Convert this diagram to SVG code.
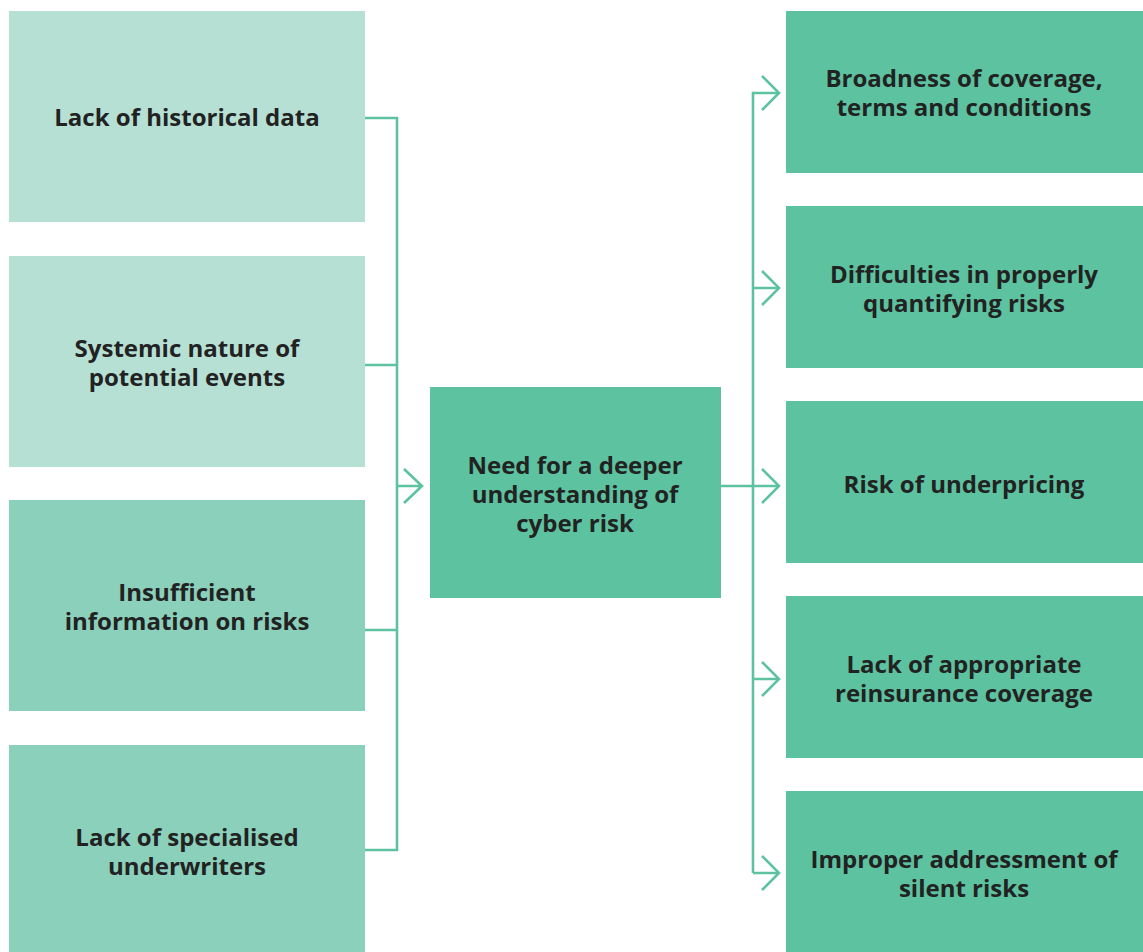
<svg xmlns="http://www.w3.org/2000/svg" width="1143" height="952" viewBox="0 0 1143 952">
<style>
.l1{fill:#b6e0d4}
.l2{fill:#8bd0bb}
.m{fill:#5cc2a0}
.t{font-family:"Open Sans","Noto Sans","Liberation Sans",sans-serif;font-weight:bold;font-size:24px;fill:#222;text-anchor:middle}
.c{fill:none;stroke:#5cc2a0;stroke-width:2.6}
</style>
<rect width="1143" height="952" fill="#fff"/>
<g id="n1"><rect class="l1" x="9" y="11" width="356" height="211"/><text class="t" x="187" y="126">Lack of historical data</text></g>
<g id="n2"><rect class="l1" x="9" y="256" width="356" height="211"/><text class="t" x="187" y="357">Systemic nature of</text><text class="t" x="187" y="386">potential events</text></g>
<g id="n3"><rect class="l2" x="9" y="500" width="356" height="211"/><text class="t" x="187" y="601">Insufficient</text><text class="t" x="187" y="630">information on risks</text></g>
<g id="n4"><rect class="l2" x="9" y="745" width="356" height="207"/><text class="t" x="187" y="846">Lack of specialised</text><text class="t" x="187" y="875">underwriters</text></g>
<g id="center"><rect class="m" x="430" y="387" width="291" height="211"/><text class="t" x="575" y="474">Need for a deeper</text><text class="t" x="575" y="503">understanding of</text><text class="t" x="575" y="532">cyber risk</text></g>
<g id="r1"><rect class="m" x="786" y="11" width="357" height="162"/><text class="t" x="964" y="87">Broadness of coverage,</text><text class="t" x="964" y="116">terms and conditions</text></g>
<g id="r2"><rect class="m" x="786" y="206" width="357" height="162"/><text class="t" x="964" y="283">Difficulties in properly</text><text class="t" x="964" y="312">quantifying risks</text></g>
<g id="r3"><rect class="m" x="786" y="401" width="357" height="162"/><text class="t" x="964" y="493">Risk of underpricing</text></g>
<g id="r4"><rect class="m" x="786" y="596" width="357" height="162"/><text class="t" x="964" y="673">Lack of appropriate</text><text class="t" x="964" y="702">reinsurance coverage</text></g>
<g id="r5"><rect class="m" x="786" y="791" width="357" height="161"/><text class="t" x="964" y="868">Improper addressment of</text><text class="t" x="964" y="897">silent risks</text></g>
<g id="connectors">
<path class="c" d="M365 118H397V850H365M365 365H397M365 630H397M397 486H422M404 469L422 486L404 503"/>
<path class="c" d="M721 486H779M753 873V93H779M753 288H779M753 679H779M753 873H779"/>
<path class="c" d="M762 76L779 93L762 110M762 271L779 288L762 305M762 469L779 486L762 503M762 662L779 679L762 696M762 856L779 873L762 890"/>
</g>
</svg>
